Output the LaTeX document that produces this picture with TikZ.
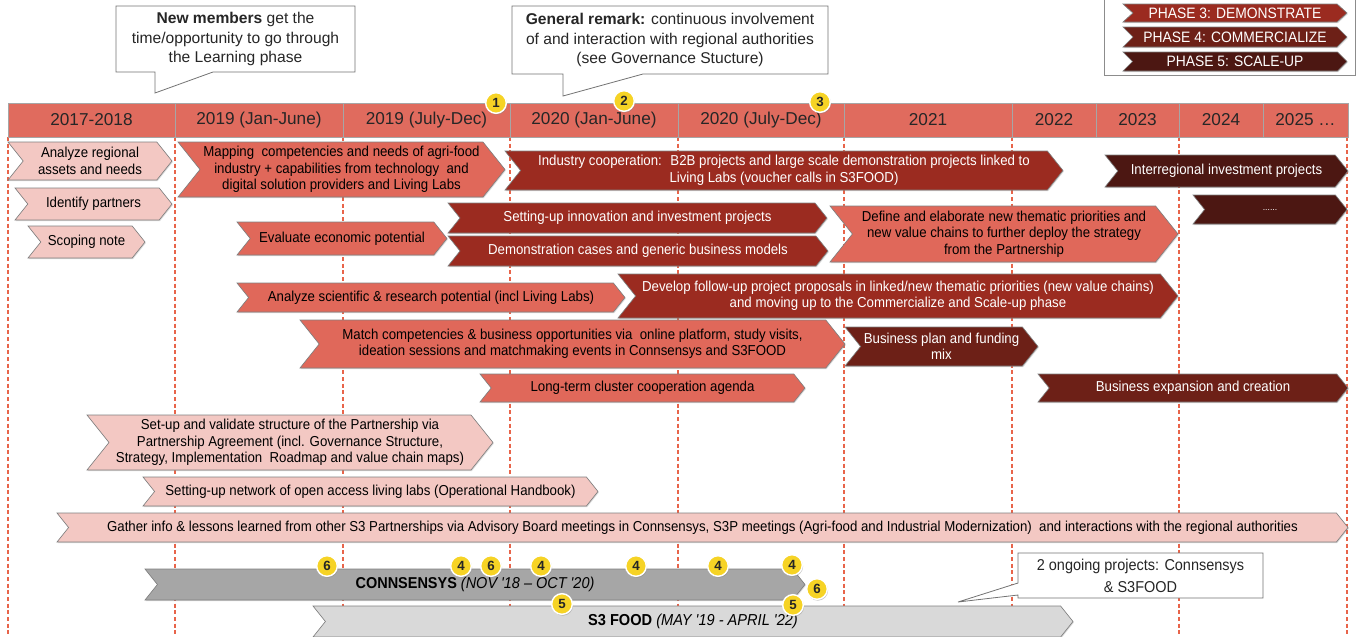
\documentclass[tikz,border=0pt]{standalone}
\usepackage{fontspec}
\setmainfont{Liberation Sans}
\newfontfamily\nrw{Liberation Sans}[FakeStretch=0.92]
\usetikzlibrary{shadows}

\definecolor{hdrfill}{HTML}{E06B5E}
\definecolor{pinkA}{HTML}{F3C8C3}
\definecolor{salmonB}{HTML}{E0685A}
\definecolor{redC}{HTML}{9B2B20}
\definecolor{brownD}{HTML}{6D2017}
\definecolor{darkE}{HTML}{4C1712}
\definecolor{greyF}{HTML}{A6A6A6}
\definecolor{greyG}{HTML}{D9D9D9}
\definecolor{dashcol}{HTML}{E8644A}
\definecolor{badgey}{HTML}{F6D325}

\tikzset{
  chevbox/.style={draw=black!50, line width=0.5pt, line join=miter,
    drop shadow={shadow xshift=0.6pt, shadow yshift=-0.8pt, opacity=0.3}},
  chevtxt/.style={inner sep=0pt, align=center, font=\nrw\fontsize{10.8}{12.4}\selectfont},
  ph1/.style={fill=pinkA}, ph1txt/.style={text=black},
  ph2/.style={fill=salmonB}, ph2txt/.style={text=black},
  ph3/.style={fill=redC}, ph3txt/.style={text=white},
  ph4/.style={fill=brownD}, ph4txt/.style={text=white},
  ph5/.style={fill=darkE}, ph5txt/.style={text=white},
  cns/.style={fill=greyF}, cnstxt/.style={text=black, font=\nrw\fontsize{11.8}{13}\selectfont},
  sfd/.style={fill=greyG}, sfdtxt/.style={text=black, font=\nrw\fontsize{11.9}{13}\selectfont},
  lgd/.style={}, lgdtxt/.style={text=white, font=\nrw\fontsize{11.3}{13}\selectfont},
  hdrline/.style={draw=black!35, line width=0.5pt},
  htxt/.style={inner sep=0pt, font=\fontsize{12.9}{15}\selectfont, text=black!85},
  gridline/.style={draw=dashcol, line width=0.8pt, dash pattern=on 3pt off 2pt},
  callbox/.style={draw=black!55, fill=white, line width=0.6pt, line join=miter},
  calltxt/.style={inner sep=0pt, align=center, font=\fontsize{11.7}{14.6}\selectfont, text=black!85},
  badge/.style={circle, fill=badgey, draw=white, line width=1.1pt, minimum size=15.5pt,
    inner sep=0pt, font=\bfseries\fontsize{10}{10}\selectfont, text=black!85,
    drop shadow={shadow xshift=0.6pt, shadow yshift=-1pt, opacity=0.45}},
}

% chevron: [depth ratio]{name}{style}{x1}{x2}{ytop}{ybottom}{text}
\newcommand\chev[8][0.4]{%
  \pgfmathsetmacro\cvD{#1*(#7-#6)}%
  \pgfmathsetmacro\cvM{(#6+#7)/2}%
  \pgfmathsetmacro\cvC{(#4+#5)/2}%
  \path[chevbox,#3] (#4,#6) -- ({#5-\cvD},#6) -- (#5,\cvM) -- ({#5-\cvD},#7)
    -- (#4,#7) -- ({#4+\cvD},\cvM) -- cycle;
  \node[chevtxt,#3txt] (#2) at (\cvC,\cvM) {#8};%
}

\begin{document}
\begin{tikzpicture}[x=0.75pt, y=-0.75pt]
\useasboundingbox (0,0) rectangle (1356,636);

% vertical dashed period lines
\foreach \gx in {8,175,343,510,678,844,1012,1179,1347}
  \draw[gridline] (\gx,137) -- (\gx,636);

% header bar
\fill[hdrfill] (8,103) rectangle (1348,137);
\draw[hdrline] (8,103) rectangle (1348,137);
\foreach \hx in {175,343,510,678,844,1012,1096,1179,1263}
  \draw[hdrline] (\hx,103) -- (\hx,137);
\node[htxt] (y1718) at (91.5,120) {2017-2018};
\node[htxt] (y19a) at (259,120) {2019 (Jan-June)};
\node[htxt] (y19b) at (426.5,120) {2019 (July-Dec)};
\node[htxt] (y20a) at (594,120) {2020 (Jan-June)};
\node[htxt] (y20b) at (761,120) {2020 (July-Dec)};
\node[htxt] (y21) at (928,120) {2021};
\node[htxt] (y22) at (1054,120) {2022};
\node[htxt] (y23) at (1137.5,120) {2023};
\node[htxt] (y24) at (1221,120) {2024};
\node[htxt] (y25) at (1305.5,120) {2025 …};

% callouts at the top
\path[callbox] (116,6) -- (355,6) -- (355,72) -- (213,72) -- (155,93) -- (155,72) -- (116,72) -- cycle;
\node[calltxt] (newmem) at (235.5,39) {\textbf{New members} get the\\time/opportunity to go through\\the Learning phase};
\path[callbox] (512,6) -- (828,6) -- (828,74) -- (643,74) -- (563,96) -- (563,74) -- (512,74) -- cycle;
\node[calltxt] (genrem) at (670,40) {\textbf{General remark:} continuous involvement\\of and interaction with regional authorities\\(see Governance Stucture)};

% legend
\draw[draw=black!45, line width=0.6pt, fill=white] (1104,-30) rectangle (1355,75);
\chev[0.55]{lg3}{ph3,lgd}{1123}{1347}{4}{22}{PHASE 3: DEMONSTRATE}
\chev[0.5]{lg4}{ph4,lgd}{1123}{1347}{27}{47}{PHASE 4: COMMERCIALIZE}
\chev[0.5]{lg5}{ph5,lgd}{1123}{1347}{52}{71}{PHASE 5: SCALE-UP}

% activities
\chev{aregional}{ph1}{8}{172}{142}{180}{Analyze regional\\assets and needs}
\chev{idpart}{ph1}{15}{172}{188}{220}{Identify partners}
\chev{scoping}{ph1}{28}{145}{226}{258}{Scoping note}
\chev{mapping}{ph2}{178}{505}{142}{197}{Mapping \ competencies and needs of agri-food\\industry + capabilities from technology \ and\\digital solution providers and Living Labs}
\chev{evaleco}{ph2}{237}{447}{222}{255}{Evaluate economic potential}
\chev{industry}{ph3}{505}{1063}{151}{190}{Industry cooperation: \ B2B projects and large scale demonstration projects linked to\\Living Labs (voucher calls in S3FOOD)}
\chev{setinnov}{ph3}{448}{827}{203}{233}{Setting-up innovation and investment projects}
\chev{democases}{ph3}{448}{828}{236}{266}{Demonstration cases and generic business models}
\chev{defnew}{ph2}{830}{1178}{206}{262}{Define and elaborate new thematic priorities and\\new value chains to further deploy the strategy\\from the Partnership}
\chev{interreg}{ph5}{1105}{1348}{155}{187}{Interregional investment projects}
\chev{moredots}{ph5}{1193}{1347}{195}{224}{{\fontsize{7}{8}\selectfont ......}}
\chev{ascient}{ph2}{237}{625}{283}{312}{Analyze scientific \& research potential (incl Living Labs)}
\chev{develop}{ph3}{618}{1178}{274}{318}{Develop follow-up project proposals in linked/new thematic priorities (new value chains)\\and moving up to the Commercialize and Scale-up phase}
\chev{match}{ph2}{300}{845}{320}{368}{Match competencies \& business opportunities via \ online platform, study visits,\\ideation sessions and matchmaking events in Connsensys and S3FOOD}
\chev{bplan}{ph4}{845}{1038}{327}{366}{Business plan and funding\\mix}
\chev{longterm}{ph2}{480}{805}{374}{402}{Long-term cluster cooperation agenda}
\chev{bexp}{ph4}{1038}{1348}{374}{402}{Business expansion and creation}
\chev{setup}{ph1}{87}{493}{415}{470}{Set-up and validate structure of the Partnership via\\Partnership Agreement (incl. Governance Structure,\\Strategy, Implementation \ Roadmap and value chain maps)}
\chev{network}{ph1}{143}{598}{477}{506}{Setting-up network of open access living labs (Operational Handbook)}
\chev{gather}{ph1}{57}{1348}{513}{542}{Gather info \& lessons learned from other S3 Partnerships via Advisory Board meetings in Connsensys, S3P meetings (Agri-food and Industrial Modernization) \ and interactions with the regional authorities}

% projects
\chev{connsensys}{cns}{145}{805}{569}{600}{\textbf{CONNSENSYS} \textit{(NOV '18 – OCT '20)}}
\chev{sfood}{sfd}{313}{1073}{606}{637}{\textbf{S3 FOOD} \textit{(MAY '19 - APRIL '22)}}

% callout for ongoing projects
\path[callbox] (1018,553) -- (1263,553) -- (1263,598) -- (1018,598) -- (1018,595) -- (958,602) -- (1018,583) -- cycle;
\node[calltxt, font=\nrw\fontsize{11.8}{17}\selectfont] (ongoing) at (1140.5,576) {2 ongoing projects: Connsensys\\\& S3FOOD};

% numbered badges
\node[badge] (bA) at (496,103) {1};
\node[badge] (bB) at (624,101) {2};
\node[badge] (bC) at (820,102) {3};
\node[badge] (bD) at (327,566) {6};
\node[badge] (bE) at (461,566) {4};
\node[badge] (bF) at (491,566) {6};
\node[badge] (bG) at (541,566) {4};
\node[badge] (bH) at (636,566) {4};
\node[badge] (bI) at (718,566) {4};
\node[badge] (bJ) at (792,565) {4};
\node[badge] (bK) at (817,589) {6};
\node[badge] (bL) at (562,604) {5};
\node[badge] (bM) at (793,605) {5};
\end{tikzpicture}
\end{document}
